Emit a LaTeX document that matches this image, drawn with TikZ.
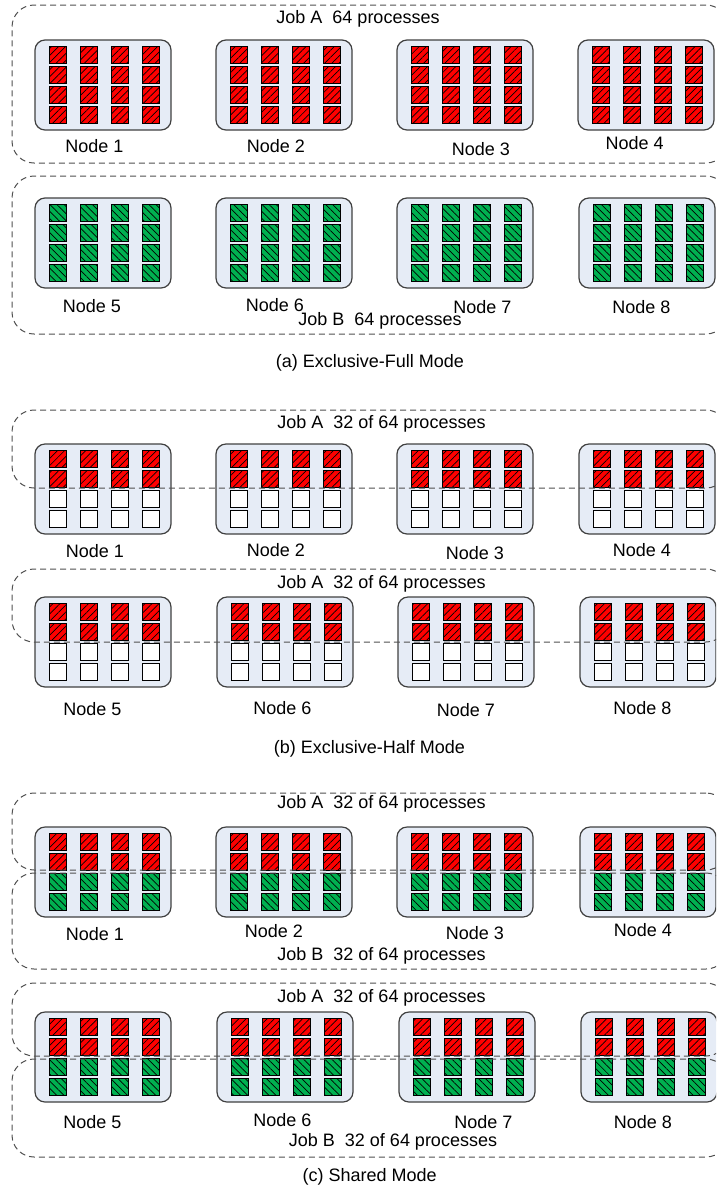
\documentclass[tikz,border=0pt]{standalone}
\usepackage{fontspec}
\setmainfont{Liberation Sans}
\usetikzlibrary{patterns.meta}
\definecolor{cellred}{RGB}{255,0,0}
\definecolor{cellgreen}{RGB}{0,176,80}
\definecolor{boxfill}{RGB}{230,236,246}
\definecolor{boxline}{RGB}{64,64,64}
\definecolor{dashline}{RGB}{80,80,80}
\tikzset{
  nodebox/.style={draw=boxline, fill=boxfill, line width=1.2pt, rounded corners=10pt,
    minimum width=136pt, minimum height=90pt, inner sep=0pt, outer sep=0pt, anchor=north west},
  cell/.style={draw=black, line width=0.9pt, minimum width=17.5pt, minimum height=17.5pt,
    inner sep=0pt, outer sep=0pt, anchor=north west},
  jobAcell/.style={cell, preaction={fill=cellred},
    pattern={Lines[angle=45,distance=5pt,line width=0.7pt]}, pattern color=black},
  jobBcell/.style={cell, preaction={fill=cellgreen},
    pattern={Lines[angle=-45,distance=5pt,line width=0.7pt]}, pattern color=black},
  freecell/.style={cell, fill=white},
  jobbox/.style={draw=dashline, dash pattern=on 6pt off 4pt, line width=1pt,
    rounded corners=22pt, inner sep=0pt, outer sep=0pt, anchor=north west, minimum width=716pt},
  lbl/.style={font=\fontsize{18}{20}\selectfont, inner sep=0pt, anchor=base}
}
\newcommand\machine[5]{%
  \node[nodebox] (#1) at (#2,#3) {};
  \foreach \c in {0,1,2,3}{
    \foreach \r in {0,1}{\node[#4] (#1-\c-\r) at ({#2+14+31*\c},{#3+6+20*\r}) {};}
    \foreach \r in {2,3}{\node[#5] (#1-\c-\r) at ({#2+14+31*\c},{#3+6+20*\r}) {};}
  }
}
\begin{document}
\begin{tikzpicture}[x=1pt,y=-1pt]
\useasboundingbox (0,0) rectangle (716,1187);
\clip (0,0) rectangle (716,1187);
% ---------------- (a) ----------------
\machine{a1}{35}{40}{jobAcell}{jobAcell}
\machine{a2}{216}{40}{jobAcell}{jobAcell}
\machine{a3}{397}{40}{jobAcell}{jobAcell}
\machine{a4}{578}{40}{jobAcell}{jobAcell}
\machine{a5}{35}{198}{jobBcell}{jobBcell}
\machine{a6}{216}{198}{jobBcell}{jobBcell}
\machine{a7}{397}{198}{jobBcell}{jobBcell}
\machine{a8}{579}{198}{jobBcell}{jobBcell}
\node[jobbox, minimum height=158pt] (aJobA) at (12,5) {};
\node[jobbox, minimum height=158pt] (aJobB) at (12,176) {};
\node[lbl] (aJobAt) at (358,23) {Job A~~64 processes};
\node[lbl] (al1) at (94.3,152.7) {Node 1};
\node[lbl] (al2) at (276,152) {Node 2};
\node[lbl] (al3) at (481,155) {Node 3};
\node[lbl] (al4) at (634.7,149.3) {Node 4};
\node[lbl] (al5) at (92,312.7) {Node 5};
\node[lbl] (al6) at (275,311.7) {Node 6};
\node[lbl] (al7) at (482.5,313.7) {Node 7};
\node[lbl] (al8) at (641.5,313) {Node 8};
\node[lbl] (aJobBt) at (380,325) {Job B~~64 processes};
\node[lbl] (acap) at (370,367) {(a) Exclusive-Full Mode};
% ---------------- (b) ----------------
\machine{b1}{35}{444}{jobAcell}{freecell}
\machine{b2}{216}{444}{jobAcell}{freecell}
\machine{b3}{397}{444}{jobAcell}{freecell}
\machine{b4}{579}{444}{jobAcell}{freecell}
\machine{b5}{35}{597}{jobAcell}{freecell}
\machine{b6}{217}{597}{jobAcell}{freecell}
\machine{b7}{398}{597}{jobAcell}{freecell}
\machine{b8}{580}{597}{jobAcell}{freecell}
\node[jobbox, minimum height=78pt] (bJobA1) at (12,410) {};
\node[jobbox, minimum height=73pt] (bJobA2) at (12,569) {};
\node[lbl] (bJobA1t) at (381.5,428) {Job A~~32 of 64 processes};
\node[lbl] (bl1) at (95,557.3) {Node 1};
\node[lbl] (bl2) at (276,556) {Node 2};
\node[lbl] (bl3) at (475,559) {Node 3};
\node[lbl] (bl4) at (642,556) {Node 4};
\node[lbl] (bJobA2t) at (381.5,588.3) {Job A~~32 of 64 processes};
\node[lbl] (bl5) at (92.5,715) {Node 5};
\node[lbl] (bl6) at (282.5,714) {Node 6};
\node[lbl] (bl7) at (466,716.7) {Node 7};
\node[lbl] (bl8) at (642.5,714.3) {Node 8};
\node[lbl] (bcap) at (369.5,753) {(b) Exclusive-Half Mode};
% ---------------- (c) ----------------
\machine{c1}{35}{827}{jobAcell}{jobBcell}
\machine{c2}{216}{827}{jobAcell}{jobBcell}
\machine{c3}{397}{827}{jobAcell}{jobBcell}
\machine{c4}{580}{827}{jobAcell}{jobBcell}
\machine{c5}{35}{1012}{jobAcell}{jobBcell}
\machine{c6}{217}{1012}{jobAcell}{jobBcell}
\machine{c7}{399}{1012}{jobAcell}{jobBcell}
\machine{c8}{581}{1012}{jobAcell}{jobBcell}
\node[jobbox, minimum height=77pt] (cJobA1) at (12,793) {};
\node[jobbox, minimum height=96pt] (cJobB1) at (12,873) {};
\node[jobbox, minimum height=73pt] (cJobA2) at (12,983) {};
\node[jobbox, minimum height=98pt] (cJobB2) at (12,1059) {};
\node[lbl] (cJobA1t) at (381.5,808) {Job A~~32 of 64 processes};
\node[lbl] (cl1) at (95,940) {Node 1};
\node[lbl] (cl2) at (274,937) {Node 2};
\node[lbl] (cl3) at (475,939) {Node 3};
\node[lbl] (cl4) at (643,936.7) {Node 4};
\node[lbl] (cJobB1t) at (381.5,960) {Job B~~32 of 64 processes};
\node[lbl] (cJobA2t) at (381.5,1002.7) {Job A~~32 of 64 processes};
\node[lbl] (cl5) at (92.5,1128.3) {Node 5};
\node[lbl] (cl6) at (282.5,1126.7) {Node 6};
\node[lbl] (cl7) at (483.3,1128.3) {Node 7};
\node[lbl] (cl8) at (643,1128) {Node 8};
\node[lbl] (cJobB2t) at (393,1146.7) {Job B~~32 of 64 processes};
\node[lbl] (ccap) at (369.7,1181.7) {(c) Shared Mode};
\end{tikzpicture}
\end{document}
